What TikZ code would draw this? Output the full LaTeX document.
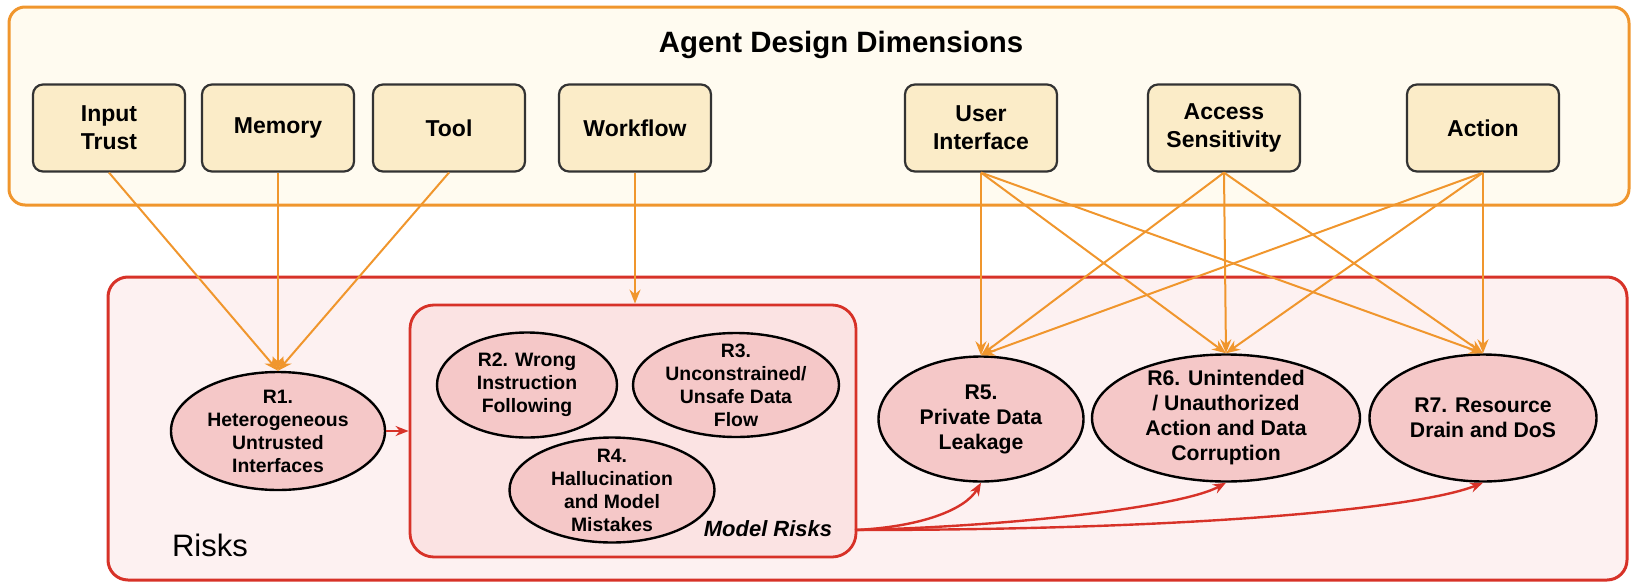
\documentclass[tikz,border=0pt]{standalone}
\usepackage{fontspec}
\setmainfont{Liberation Sans}
\usepackage{tikz}
\usetikzlibrary{arrows.meta,positioning,shapes.geometric,calc}
\usepackage{xcolor}
\definecolor{panelfill}{RGB}{255,251,240}
\definecolor{dimfill}{RGB}{251,236,200}
\definecolor{dimline}{RGB}{240,150,45}
\definecolor{riskpanel}{RGB}{253,241,241}
\definecolor{modelpanel}{RGB}{251,227,227}
\definecolor{riskfill}{RGB}{245,200,200}
\definecolor{riskline}{RGB}{215,50,40}
\tikzset{
  panel/.style={rectangle,rounded corners=8pt,line width=1.5pt,inner sep=0pt},
  dim/.style={rectangle,rounded corners=5pt,draw=black!80,fill=dimfill,line width=1.1pt,minimum width=76pt,minimum height=43.5pt,align=center,font=\bfseries\fontsize{11.5pt}{14pt}\selectfont},
  risk/.style={ellipse,draw=black,fill=riskfill,line width=1.2pt,inner sep=0pt}
}

\begin{document}
\begin{tikzpicture}[
  x=0.5pt,y=-0.5pt,
  feed/.style={draw=dimline,line width=1pt,-{Stealth[length=7pt,width=5.5pt]}},
  lead/.style={draw=riskline,line width=1.2pt,-{Stealth[length=6.5pt,width=5pt]}},
  rtxt/.style={align=center,inner sep=0pt,font=\bfseries\fontsize{9.7pt}{11.5pt}\selectfont},
  rtxtbig/.style={align=center,inner sep=0pt,font=\bfseries\fontsize{10.6pt}{12.5pt}\selectfont}
]
  \useasboundingbox (0,0) rectangle (1634,584);

  % --- Panels ---
  \node[panel,draw=dimline,fill=panelfill,minimum width=810pt,minimum height=99pt] (ADD) at (819,106) {};
  \node[panel,rounded corners=10pt,draw=riskline,fill=riskpanel,minimum width=759.5pt,minimum height=151.5pt] (RSK) at (867.5,428.5) {};
  \node[panel,rounded corners=12pt,draw=riskline,line width=1.4pt,fill=modelpanel,minimum width=223pt,minimum height=126pt] (MR) at (633,431) {};

  % --- Panel titles ---
  \node[font=\bfseries\fontsize{14.7pt}{17pt}\selectfont] (title) at (841,45) {Agent Design Dimensions};
  \node[font=\fontsize{15.5pt}{18pt}\selectfont] (risklab) at (210,545) {Risks};
  \node[font=\bfseries\itshape\fontsize{11pt}{13pt}\selectfont] (mrlab) at (768,529) {Model Risks};

  % --- Design dimensions ---
  \node[dim] (IT)  at (109,128)  {Input\\Trust};
  \node[dim] (Mem) at (278,128)  {Memory};
  \node[dim] (Tool) at (449,128) {Tool};
  \node[dim] (WF)  at (635,128)  {Workflow};
  \node[dim] (UI)  at (981,128)  {User\\Interface};
  \node[dim] (AS)  at (1224,128) {Access\\Sensitivity};
  \node[dim] (Act) at (1483,128) {Action};

  % --- Risks ---
  \node[risk,minimum width=107pt,minimum height=59pt,label={[rtxt]center:{R1.\\Heterogeneous\\Untrusted\\Interfaces}}] (R1) at (278,431) {};
  \node[risk,minimum width=90pt,minimum height=52.5pt,label={[rtxt]center:{R2. Wrong\\Instruction\\Following}}] (R2) at (527,385) {};
  \node[risk,minimum width=103pt,minimum height=52pt,label={[rtxt]center:{R3.\\Unconstrained/\\Unsafe Data\\Flow}}] (R3) at (736,385) {};
  \node[risk,minimum width=102.5pt,minimum height=52.5pt,label={[rtxt]center:{R4.\\Hallucination\\and Model\\Mistakes}}] (R4) at (612,490) {};
  \node[risk,minimum width=102.5pt,minimum height=62.5pt,label={[rtxtbig]center:{R5.\\Private Data\\Leakage}}] (R5) at (981,419) {};
  \node[risk,minimum width=134pt,minimum height=63.5pt,label={[rtxtbig]center:{R6. Unintended\\/ Unauthorized\\Action and Data\\Corruption}}] (R6) at (1226,418) {};
  \node[risk,minimum width=113.5pt,minimum height=63.5pt,label={[rtxtbig]center:{R7. Resource\\Drain and DoS}}] (R7) at (1483,418) {};
  \coordinate (MRout) at (855,530);

  % --- Dimensions feeding R1 and the model risks ---
  \draw[feed] (IT.south) -- (R1.north);
  \draw[feed] (Mem.south) -- (R1.north);
  \draw[feed] (Tool.south) -- (R1.north);
  \draw[feed] (WF.south) -- (WF.south |- MR.north);

  % --- Dimensions feeding R5, R6, R7 ---
  \draw[feed] (UI.south) -- (R5.north);
  \draw[feed] (UI.south) -- (R6.north);
  \draw[feed] (UI.south) -- (R7.north);
  \draw[feed] (AS.south) -- (R5.north);
  \draw[feed] (AS.south) -- (R6.north);
  \draw[feed] (AS.south) -- (R7.north);
  \draw[feed] (Act.south) -- (R5.north);
  \draw[feed] (Act.south) -- (R6.north);
  \draw[feed] (Act.south) -- (R7.north);

  % --- Risk propagation ---
  \draw[lead] (R1.east) -- (MR.west);
  \draw[lead] (MRout) .. controls (920,527) and (965,510) .. (R5.south);
  \draw[lead] (MRout) .. controls (1000,527) and (1180,508) .. (R6.south);
  \draw[lead] (MRout) .. controls (1200,530) and (1420,508) .. (R7.south);
\end{tikzpicture}
\end{document}
